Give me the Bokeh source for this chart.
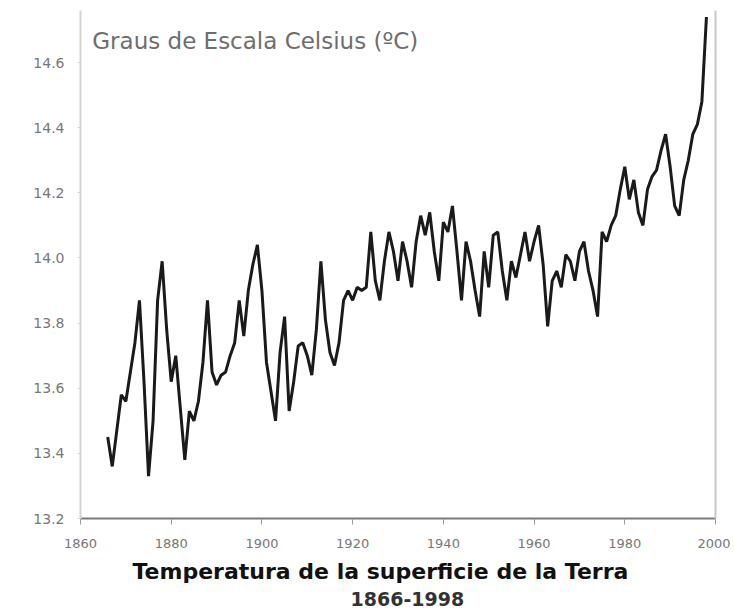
from bokeh.plotting import figure
from bokeh.models import (LinearAxis, FixedTicker, PrintfTickFormatter, Title,
                          Label, Range1d)
from bokeh.embed import file_html
from bokeh.resources import INLINE

years = list(range(1866, 1999))
temps = [
    13.45, 13.36, 13.47, 13.58, 13.56, 13.65, 13.74, 13.87, 13.62, 13.33,
    13.50, 13.87, 13.99, 13.78, 13.62, 13.70, 13.54, 13.38, 13.53, 13.50,
    13.56, 13.68, 13.87, 13.65, 13.61, 13.64, 13.65, 13.70, 13.74, 13.87,
    13.76, 13.90, 13.98, 14.04, 13.90, 13.68, 13.59, 13.50, 13.71, 13.82,
    13.53, 13.62, 13.73, 13.74, 13.70, 13.64, 13.78, 13.99, 13.81, 13.71,
    13.67, 13.74, 13.87, 13.90, 13.87, 13.91, 13.90, 13.91, 14.08, 13.93,
    13.87, 13.99, 14.08, 14.02, 13.93, 14.05, 13.99, 13.91, 14.05, 14.13,
    14.07, 14.14, 14.02, 13.93, 14.11, 14.08, 14.16, 14.02, 13.87, 14.05,
    13.99, 13.90, 13.82, 14.02, 13.91, 14.07, 14.08, 13.96, 13.87, 13.99,
    13.94, 14.01, 14.08, 13.99, 14.05, 14.10, 13.98, 13.79, 13.93, 13.96,
    13.91, 14.01, 13.99, 13.93, 14.02, 14.05, 13.96, 13.90, 13.82, 14.08,
    14.05, 14.10, 14.13, 14.21, 14.28, 14.18, 14.24, 14.14, 14.10, 14.21,
    14.25, 14.27, 14.33, 14.38, 14.28, 14.16, 14.13, 14.24, 14.30, 14.38,
    14.41, 14.48, 14.74,
]
x_ticks = [1860, 1880, 1900, 1920, 1940, 1960, 1980, 2000]
y_ticks = [13.2, 13.4, 13.6, 13.8, 14.0, 14.2, 14.4, 14.6]
units_label = "Graus de Escala Celsius (ºC)"
title_main = "Temperatura de la superficie de la Terra"
title_sub = "1866-1998"

p = figure(width=730, height=610, output_backend="svg", toolbar_location=None,
           x_range=Range1d(1860, 2000), y_range=Range1d(13.2, 14.76),
           min_border_left=80, min_border_right=15, min_border_top=10,
           min_border_bottom=92)
p.outline_line_color = None
p.xgrid.visible = False
p.ygrid.visible = False

p.line(years, temps, line_color="#1a1a1a", line_width=3)

tick_font = "DejaVu Sans"
p.xaxis.ticker = FixedTicker(ticks=x_ticks)
p.xaxis.axis_line_color = "#7a7a7a"
p.xaxis.axis_line_width = 2
p.xaxis.major_tick_line_color = "#999999"
p.xaxis.major_tick_out = 6
p.xaxis.major_tick_in = 0
p.xaxis.minor_tick_line_color = None
p.xaxis.major_label_standoff = 14
p.xaxis.major_label_text_font = tick_font
p.xaxis.major_label_text_font_size = "13px"
p.xaxis.major_label_text_color = "#777777"

p.yaxis.ticker = FixedTicker(ticks=y_ticks)
p.yaxis.formatter = PrintfTickFormatter(format="%.1f")
p.yaxis.axis_line_color = "#d4d4d4"
p.yaxis.axis_line_width = 2
p.yaxis.major_tick_line_color = "#d4d4d4"
p.yaxis.major_tick_out = 3
p.yaxis.major_tick_in = 0
p.yaxis.minor_tick_line_color = None
p.yaxis.major_label_standoff = 13
p.yaxis.major_label_text_font = tick_font
p.yaxis.major_label_text_font_size = "14px"
p.yaxis.major_label_text_color = "#777777"

right = LinearAxis(ticker=FixedTicker(ticks=[]), axis_line_color="#c8c8c8",
                   axis_line_width=2, major_tick_line_color=None,
                   minor_tick_line_color=None, major_label_standoff=0)
p.add_layout(right, "right")

p.add_layout(Label(x=1862.6, y=14.665, text=units_label, text_baseline="middle",
                   text_font="DejaVu Sans", text_font_size="23px",
                   text_color="#6e6e6e"))

p.add_layout(Title(text=title_main, align="left", offset=52,
                   text_font="DejaVu Sans", text_font_size="22px",
                   text_font_style="bold", text_color="#111111", standoff=12),
             "below")
p.add_layout(Title(text=title_sub, align="left", offset=270,
                   text_font="DejaVu Sans", text_font_size="19px",
                   text_font_style="bold", text_color="#333333", standoff=0),
             "below")

open("out.html", "w").write(file_html(p, INLINE))
